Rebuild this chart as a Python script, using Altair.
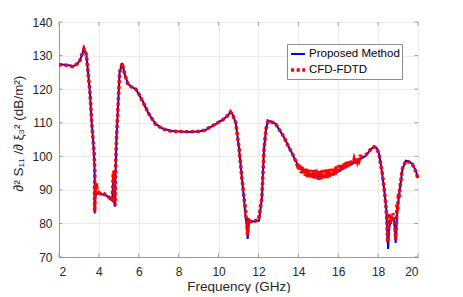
import altair as alt
import pandas as pd

# Proposed Method (blue solid)
blue_f = [2.0, 2.3, 2.5, 2.7, 2.9, 3.05, 3.25, 3.37, 3.55, 3.64, 3.72, 3.78, 3.8, 3.79, 3.82, 3.9,
          4.1, 4.4, 4.67, 4.72, 4.76, 4.8, 4.84, 4.88, 4.96, 5.04, 5.17, 5.29, 5.46, 5.7, 5.85,
          6.0, 6.18, 6.5, 6.85, 7.18, 7.6, 8.0, 8.5, 9.0, 9.3, 9.7, 10.2, 10.45, 10.6, 10.7,
          10.86, 11.03, 11.16, 11.28, 11.33, 11.4, 11.46, 11.52, 11.61, 11.8, 12.03, 12.17,
          12.28, 12.38, 12.48, 12.7, 12.87, 13.28, 13.5, 13.7, 14.04, 14.3, 14.5, 14.7, 14.9,
          15.2, 15.4, 15.7, 16.0, 16.2, 16.5, 16.88, 17.38, 17.6, 17.8, 17.95, 18.05, 18.2,
          18.3, 18.41, 18.45, 18.5, 18.55, 18.63, 18.75, 18.8, 18.85, 18.88, 18.93, 18.97,
          19.05, 19.15, 19.22, 19.39, 19.55, 19.72, 19.89, 20.0]
blue_v = [127.5, 127.2, 127.1, 126.8, 127.4, 128.5, 132.0, 130.5, 119.0, 110.0, 104.0, 97.0, 90.0, 83.0, 88.0, 89.0,
          88.8, 88.2, 86.8, 93.0, 95.0, 85.0, 96.0, 105.0, 115.0, 125.0, 127.8, 124.5, 121.5, 120.5, 120.0,
          118.5, 116.6, 112.6, 109.6, 108.3, 107.6, 107.4, 107.2, 107.4, 107.7, 109.0, 110.9, 112.0, 113.3, 112.5,
          110.1, 102.2, 94.2, 87.3, 83.3, 80.0, 75.4, 80.0, 80.8, 80.5, 80.8, 87.3,
          102.2, 108.0, 110.6, 110.2, 109.6, 105.7, 103.0, 100.7, 96.6, 95.3, 94.4, 94.9, 93.9,
          94.3, 94.0, 94.7, 95.4, 96.2, 97.2, 98.2, 100.2, 101.8, 103.0, 102.3, 100.7, 95.0,
          90.3, 84.3, 79.0, 72.4, 78.0, 81.8, 81.5, 81.3, 77.0, 74.2, 80.0, 84.3,
          88.3, 93.0, 96.2, 98.7, 98.5, 97.7, 95.7, 93.5]

# CFD-FDTD (red dotted)
red_f = [2.0, 2.3, 2.5, 2.7, 2.9, 3.05, 3.25, 3.37, 3.55, 3.64, 3.72, 3.76, 3.8, 3.78, 3.79, 3.8,
         3.82, 3.86, 3.88, 3.92, 4.0, 4.1, 4.2, 4.4, 4.55, 4.62, 4.67, 4.7, 4.72, 4.74, 4.76, 4.78,
         4.81, 4.84, 4.88, 4.96, 5.04, 5.17, 5.29, 5.46, 5.7, 5.85, 6.0, 6.18, 6.5, 6.85, 7.18,
         7.6, 8.0, 8.5, 9.0, 9.3, 9.7, 10.2, 10.45, 10.6, 10.7, 10.86, 11.03, 11.16, 11.28,
         11.35, 11.38, 11.42, 11.45, 11.5, 11.55, 11.65, 11.8, 12.0, 12.17, 12.28, 12.38, 12.48,
         12.7, 12.87, 13.28, 13.5, 13.7, 13.85, 13.95, 14.0, 14.05, 14.1, 14.15, 14.2, 14.25,
         14.3, 14.35, 14.4, 14.45, 14.5, 14.55, 14.6, 14.65, 14.7, 14.75, 14.8, 14.85, 14.9,
         14.95, 15.0, 15.05, 15.1, 15.15, 15.2, 15.25, 15.3, 15.35, 15.4, 15.45, 15.5, 15.55,
         15.6, 15.65, 15.7, 15.75, 15.8, 15.85, 15.9, 15.95, 16.0, 16.05, 16.1, 16.15, 16.2,
         16.25, 16.3, 16.35, 16.4, 16.45, 16.5, 16.55, 16.6, 16.65, 16.7, 16.75, 16.8, 16.85,
         16.9, 16.95, 17.0, 17.05, 17.1, 17.2, 17.38, 17.6, 17.8,
         17.95, 18.05, 18.2, 18.3, 18.38, 18.41, 18.45, 18.48, 18.52, 18.55, 18.6, 18.65, 18.7,
         18.75, 18.8, 18.85, 18.88, 18.92, 18.95, 18.98, 19.02, 19.05, 19.1, 19.15, 19.22, 19.39,
         19.55, 19.72, 19.89, 20.0]
red_v = [127.3, 127.2, 127.0, 126.7, 127.5, 128.6, 132.0, 130.3, 119.2, 110.2, 104.0, 101.5, 95.0, 90.0, 83.5, 86.0,
         91.5, 90.0, 92.0, 88.5, 89.2, 88.8, 89.0, 88.4, 87.5, 88.0, 87.5, 91.0, 95.0, 93.0, 96.0, 90.0,
         85.3, 96.5, 105.0, 115.0, 125.0, 127.7, 124.6, 121.4, 120.4, 120.0, 118.6, 116.5, 112.7, 109.5, 108.2,
         107.5, 107.4, 107.3, 107.4, 107.8, 109.1, 110.8, 112.1, 113.2, 112.4, 110.0, 102.3, 94.0, 87.5,
         84.0, 82.0, 80.5, 76.5, 81.5, 80.7, 80.5, 80.8, 81.0, 87.5, 102.0, 108.2, 110.5,
         110.1, 109.5, 105.8, 102.9, 100.8, 98.8, 97.3, 98.0, 96.0, 97.4, 95.0, 96.8, 94.6,
         96.5, 94.2, 96.4, 93.8, 96.0, 93.6, 95.9, 93.4, 95.8, 93.2, 95.9, 93.5, 96.0,
         93.2, 95.7, 93.0, 95.8, 93.3, 95.9, 93.1, 95.8, 93.4, 96.1, 93.5, 96.0, 93.7,
         96.2, 93.9, 96.3, 94.3, 96.6, 94.6, 97.0, 95.0, 97.3, 95.4, 97.5, 95.8, 97.6,
         96.2, 97.9, 96.5, 98.2, 96.8, 98.4, 97.1, 98.6, 97.4, 98.9, 97.8, 99.1, 98.1,
         99.4, 98.5, 99.7, 98.9, 100.0, 100.0, 100.4, 101.9, 102.8,
         102.2, 100.5, 95.2, 90.5, 86.0, 83.5, 80.0, 74.5, 80.0, 83.0, 79.5, 82.5, 80.5,
         83.0, 81.0, 79.0, 75.0, 80.0, 86.0, 84.0, 89.0, 87.5, 91.0, 93.2, 96.4, 98.6,
         98.3, 97.6, 95.5, 93.3]

series_names = ["Proposed Method", "CFD-FDTD"]
x_ticks = [2, 4, 6, 8, 10, 12, 14, 16, 18, 20]
y_ticks = [70, 80, 90, 100, 110, 120, 130, 140]
x_min, x_max = 2, 20
y_min, y_max = 70, 140

df_blue = pd.DataFrame({"f": blue_f, "v": blue_v, "s": series_names[0], "o": range(len(blue_f))})
df_red = pd.DataFrame({"f": red_f, "v": red_v, "s": series_names[1], "o": range(len(red_f))})

color = alt.Color("s:N", scale=alt.Scale(domain=series_names, range=["#0000ff", "#ff0000"]),
                  legend=alt.Legend(title=None, orient="none", legendX=228, legendY=22,
                                    symbolType="stroke", symbolSize=196,
                                    labelFont="Liberation Sans", labelFontSize=11.5,
                                    labelColor="#000000", fillColor="#ffffff",
                                    strokeColor="#8c8c8c", padding=2, rowPadding=1,
                                    labelOffset=2))
dash = alt.StrokeDash("s:N", scale=alt.Scale(domain=series_names, range=[[1, 0], [3.2, 2.4]]), legend=None)
width = alt.StrokeWidth("s:N", scale=alt.Scale(domain=series_names, range=[2, 3.5]), legend=None)

xscale = alt.Scale(domain=[x_min, x_max], nice=False)
yscale = alt.Scale(domain=[y_min, y_max], nice=False)
xaxis = alt.Axis(values=x_ticks, title="Frequency (GHz)", format="d",
                 labelPadding=9.5, titlePadding=1.5, labelOverlap=False)
yaxis = alt.Axis(values=y_ticks, title="∂² S₁₁ /∂ ξ₃² (dB/m²)", format="d",
                 labelPadding=7, titlePadding=6, titleY=111, labelOverlap=False)

xenc = alt.X("f:Q", scale=xscale, axis=xaxis)
yenc = alt.Y("v:Q", scale=yscale, axis=yaxis)

# inward tick marks on all four sides (MATLAB box style), drawn at the tick values
xt = pd.DataFrame({"f": x_ticks})
yt = pd.DataFrame({"v": y_ticks})
tick_color = "#9a9a9a"
ticks_bottom = alt.Chart(xt).mark_rule(color=tick_color, strokeWidth=1).encode(
    x=alt.X("f:Q", scale=xscale, axis=xaxis), y=alt.value(235), y2=alt.value(231.5))
ticks_top = alt.Chart(xt).mark_rule(color=tick_color, strokeWidth=1).encode(
    x=alt.X("f:Q", scale=xscale, axis=xaxis), y=alt.value(0), y2=alt.value(3.5))
ticks_left = alt.Chart(yt).mark_rule(color=tick_color, strokeWidth=1).encode(
    y=alt.Y("v:Q", scale=yscale, axis=yaxis), x=alt.value(0), x2=alt.value(3.5))
ticks_right = alt.Chart(yt).mark_rule(color=tick_color, strokeWidth=1).encode(
    y=alt.Y("v:Q", scale=yscale, axis=yaxis), x=alt.value(359), x2=alt.value(355.5))

blue = alt.Chart(df_blue).mark_line().encode(x=xenc, y=yenc, color=color, strokeDash=dash,
                                              strokeWidth=width, order="o:Q")
red = alt.Chart(df_red).mark_line().encode(x=xenc, y=yenc, color=color, strokeDash=dash,
                                            strokeWidth=width, order="o:Q")

chart = alt.layer(blue, red, ticks_bottom, ticks_top, ticks_left, ticks_right).properties(
    width=359, height=235,
    padding={"left": 3, "top": 8, "right": 5, "bottom": 0}
).configure_axis(
    labelFont="Liberation Sans", labelFontSize=12, labelColor="#262626",
    titleFont="Liberation Sans", titleFontSize=13.5, titleFontWeight="normal", titleColor="#262626",
    gridColor="#ebebeb", domainColor="#9a9a9a", ticks=False
).configure_view(
    stroke="#9a9a9a"
)

chart.save("out.html", embed_options={"renderer": "svg", "actions": False})
